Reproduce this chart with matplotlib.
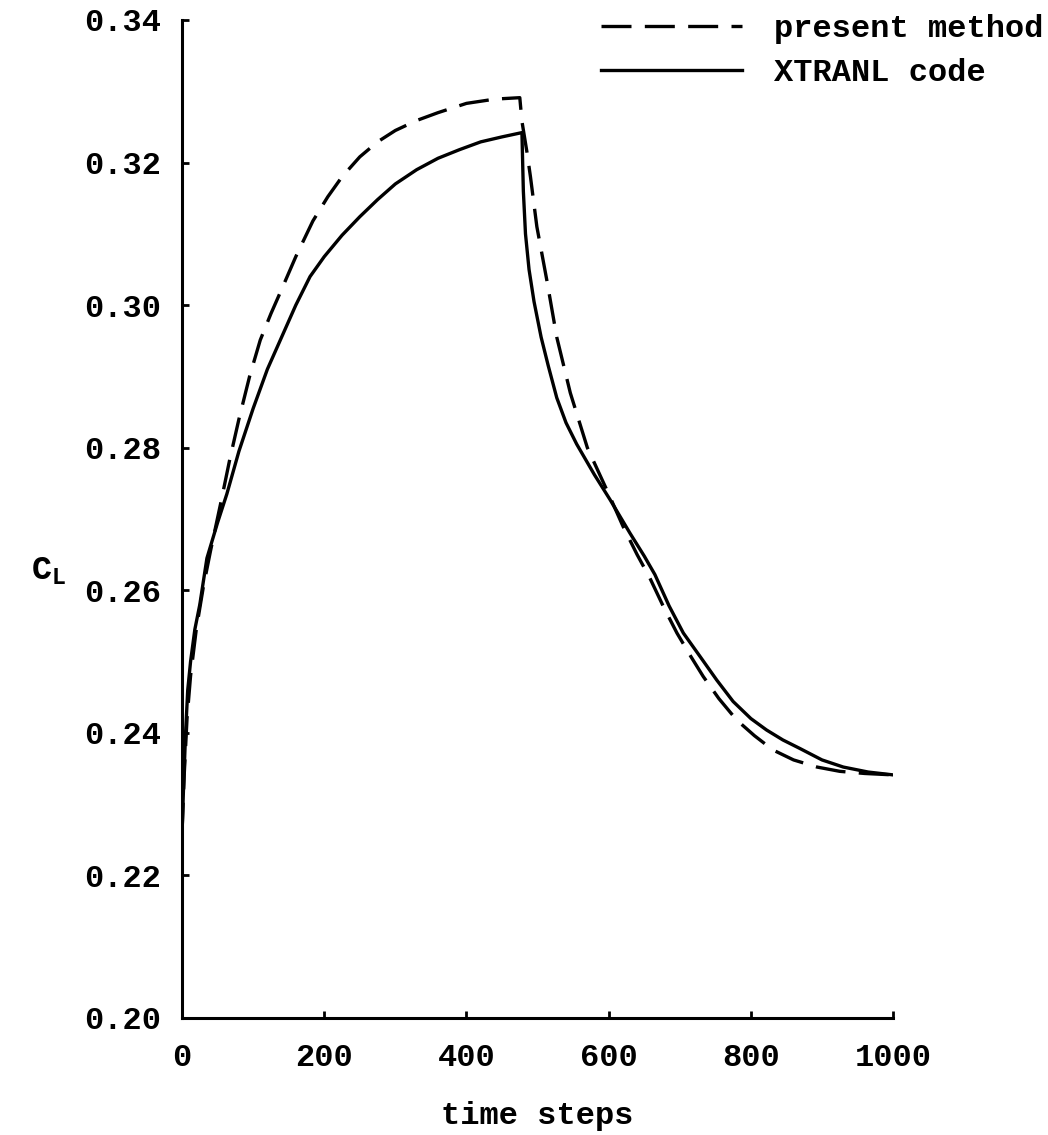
import matplotlib
matplotlib.use("Agg")
import matplotlib.pyplot as plt

# --- DATA ---
t_xtranl = [0, 2, 5, 8, 12, 18, 25, 35, 50, 63, 80, 100, 120, 140, 160, 180, 200, 225, 250,
            275, 300, 330, 360, 390, 420, 450, 478, 480, 483, 488, 495, 505, 515, 527, 540,
            555, 580, 602, 630, 650, 665, 685, 705, 730, 752, 775, 800, 822, 845, 869, 900,
            930, 965, 1000]
cl_xtranl = [0.226, 0.232, 0.240, 0.246, 0.250, 0.2545, 0.258, 0.2645, 0.2695, 0.2735, 0.2795,
             0.2855, 0.2910, 0.2955, 0.3000, 0.3040, 0.3068, 0.3098, 0.3124, 0.3148, 0.3170,
             0.3190, 0.3206, 0.3218, 0.3229, 0.3236, 0.3242, 0.3160, 0.3100, 0.3050, 0.3005,
             0.2955, 0.2915, 0.2870, 0.2835, 0.2805, 0.2762, 0.2727, 0.2680, 0.2648, 0.2622,
             0.2578, 0.2540, 0.2505, 0.2474, 0.2444, 0.2420, 0.2404, 0.2390, 0.2378, 0.2362,
             0.2352, 0.2345, 0.2341]

t_present = [0, 3, 7, 12, 20, 30, 40, 55, 67, 80, 95, 110, 125, 140, 160, 184, 205, 225, 250,
             275, 300, 330, 360, 400, 440, 475, 478, 485, 490, 499, 513, 527, 546, 570, 600,
             620, 640, 658, 677, 696, 715, 733, 755, 780, 805, 831, 860, 893, 925, 960, 1000]
cl_present = [0.226, 0.234, 0.242, 0.248, 0.2545, 0.2605, 0.2655, 0.2725, 0.2783, 0.2840,
              0.2900, 0.2951, 0.2988, 0.3022, 0.3068, 0.3118, 0.3152, 0.3180, 0.3208, 0.3229,
              0.3245, 0.3259, 0.3270, 0.3283, 0.3289, 0.3291, 0.3258, 0.3215, 0.3180, 0.3110,
              0.3035, 0.2955, 0.2877, 0.2800, 0.2735, 0.2690, 0.2650, 0.2617, 0.2577, 0.2540,
              0.2508, 0.2479, 0.2448, 0.2418, 0.2396, 0.2376, 0.2362, 0.2352, 0.2346, 0.2343,
              0.2341]

x_ticks = [0, 200, 400, 600, 800, 1000]
y_ticks = [0.20, 0.22, 0.24, 0.26, 0.28, 0.30, 0.32, 0.34]

# --- STYLE ---
plt.rcParams['font.family'] = ['Liberation Mono', 'DejaVu Sans Mono']
plt.rcParams['font.weight'] = 'bold'
plt.rcParams['mathtext.fontset'] = 'custom'
plt.rcParams['mathtext.rm'] = 'Liberation Mono:bold'
plt.rcParams['mathtext.it'] = 'Liberation Mono:bold'

fig = plt.figure(figsize=(10.48, 11.35), dpi=100)
ax = fig.add_axes([0.1737, 0.1031, 0.6785, 0.8793])

ax.plot(t_present, cl_present, color='black', lw=2.4, dashes=(9, 4),
        label='present method')
ax.plot(t_xtranl, cl_xtranl, color='black', lw=2.4, label='XTRANL code')

ax.set_xlim(0, 1000)
ax.set_ylim(0.20, 0.34)
ax.set_xticks(x_ticks)
ax.set_xticklabels([str(v) for v in x_ticks])
ax.set_yticks(y_ticks)
ax.set_yticklabels([f"{v:.2f}" for v in y_ticks])

for side in ['top', 'right']:
    ax.spines[side].set_visible(False)
for side in ['left', 'bottom']:
    ax.spines[side].set_linewidth(2.2)

ax.tick_params(axis='both', direction='in', length=5, width=2, labelsize=23)
ax.tick_params(axis='y', pad=15)
ax.tick_params(axis='x', pad=18)

ax.set_xlabel('time steps', fontsize=23, fontweight='bold', labelpad=20)
fig.text(0.046, 0.497, r'$\mathrm{C_L}$', fontsize=24, ha='center', va='center')

leg = ax.legend(loc='upper right', bbox_to_anchor=(1.023, 1.013), bbox_transform=fig.transFigure,
                frameon=False, fontsize=23, handlelength=4.4, handletextpad=1.0,
                labelspacing=0.45)

fig.savefig('out.png', dpi=100)
